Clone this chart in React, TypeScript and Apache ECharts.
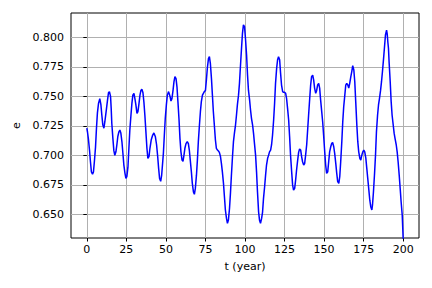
import React, { useEffect, useRef } from "react";
import * as echarts from "echarts";

const years: number[] = [
  0, 0.4, 1.0, 1.7, 2.3, 2.9, 3.6, 4.2, 4.8, 5.5, 6.1, 6.7, 7.4, 8.2, 8.9, 9.5, 10.1, 10.8, 11.4, 12.2,
  13.1, 13.7, 14.3, 15.0, 15.4, 15.8, 16.5, 17.1, 17.7, 18.4, 19.0, 19.6, 20.3, 20.9, 21.5, 22.2, 22.8,
  23.4, 24.1, 24.7, 25.3, 26.0, 26.6, 27.2, 27.9, 28.5, 29.1, 29.8, 30.4, 31.0, 31.7, 32.3, 32.9, 33.6,
  34.2, 34.8, 35.5, 36.1, 36.7, 37.4, 38.0, 38.6, 39.3, 39.9, 40.7, 41.6, 42.4, 43.3, 44.1, 44.8, 45.4,
  46.0, 46.7, 47.3,
  48.4, 49.0, 49.6, 50.3, 50.9, 51.7, 52.6, 53.2, 53.8, 54.5, 55.1, 55.7, 56.4, 57.0, 57.6, 58.3, 58.9,
  59.5, 60.2, 60.8, 61.4, 62.0, 62.7, 63.5, 64.2, 64.8, 65.4, 66.1, 66.7, 67.4, 68.0, 68.6, 69.3, 69.9,
  70.5, 71.2, 71.8, 72.4, 73.1, 73.7, 74.3, 75.0, 75.6, 76.2, 76.9, 77.5, 78.1, 78.8, 79.4, 80.0, 80.7,
  81.3, 81.9, 82.6, 83.2, 83.8, 84.5, 85.1, 85.7, 86.4, 87.0, 87.6, 88.3, 88.9, 89.5, 90.2, 90.8, 91.4,
  92.1, 92.7, 93.3, 94.0, 94.6, 95.2, 95.9, 96.5, 97.1, 97.8, 98.4, 99.0,
  99.7, 100.3, 101.0, 101.6, 102.2, 102.9, 103.5, 104.1, 104.8, 105.4, 106.0, 106.7, 107.3, 107.9, 108.6,
  109.2, 109.8, 110.5, 111.1, 111.7, 112.4, 113.0, 113.6, 114.3, 114.9, 115.5, 116.2, 116.8, 117.4, 118.1,
  118.7, 119.3, 120.0, 120.6, 121.2, 121.9, 122.5, 123.1, 123.8, 124.4, 125.0, 125.7, 126.3, 126.9, 127.6,
  128.2, 128.8, 129.5, 130.1, 130.7, 131.4, 132.0, 132.6, 133.3, 133.9, 134.5, 135.2, 135.8, 136.4, 137.1,
  137.7, 138.3, 139.0, 139.6, 140.2, 140.9, 141.5, 142.1, 142.8, 143.4, 144.0, 144.7, 145.3, 145.9, 146.6,
  147.2, 147.8, 148.5, 149.1, 149.7, 150.4,
  151.0, 151.6, 152.3, 152.9, 153.5, 154.2, 154.8, 155.4, 156.1, 156.7, 157.4, 158.0, 158.6, 159.3, 159.9,
  160.5, 161.2, 161.8, 162.4, 163.1, 163.7, 164.3, 165.0, 165.6, 166.2, 166.9, 167.5, 168.1, 168.8, 169.4,
  170.0, 170.7, 171.3, 171.9, 172.6, 173.2, 173.8, 174.5, 175.1, 175.7, 176.4, 177.0, 177.6, 178.3, 178.9,
  179.5, 180.2, 180.6, 181.2, 181.9, 182.5, 183.1, 183.8, 184.4, 185.0, 185.7, 186.3, 186.9, 187.6, 188.2,
  188.8, 189.5, 189.9, 190.3, 190.7, 191.1, 191.8, 192.4, 193.0, 193.7, 194.3, 194.9, 195.6, 196.2, 196.8,
  197.5, 198.1, 198.7, 199.4, 200.0,
];

const eccentricity: number[] = [
  0.723, 0.720, 0.714, 0.7045, 0.6946, 0.686, 0.684, 0.686, 0.695, 0.707, 0.723, 0.736, 0.744, 0.748, 0.743,
  0.734, 0.726, 0.723, 0.7285, 0.737, 0.747, 0.753, 0.754, 0.750, 0.740, 0.727, 0.714, 0.704, 0.700, 0.703,
  0.709, 0.716, 0.720, 0.7215, 0.719, 0.7115, 0.702, 0.692, 0.685, 0.6805, 0.682, 0.690, 0.706, 0.7215,
  0.734, 0.744, 0.751, 0.7525, 0.748, 0.743, 0.7355, 0.737, 0.743, 0.751, 0.755, 0.756, 0.753, 0.745, 0.734,
  0.719, 0.706, 0.6975, 0.699, 0.706, 0.713, 0.717, 0.719, 0.716, 0.709, 0.699, 0.689, 0.6805, 0.678, 0.683,
  0.7017, 0.717, 0.7314, 0.743, 0.751, 0.754, 0.750, 0.746, 0.748, 0.755, 0.7624, 0.7667, 0.765, 0.758,
  0.7455, 0.730, 0.714, 0.703, 0.696, 0.695, 0.700, 0.706, 0.710, 0.7116, 0.710, 0.7045, 0.696, 0.686,
  0.6763, 0.669, 0.667, 0.672, 0.683, 0.696, 0.7116, 0.7257, 0.737, 0.7455, 0.751, 0.7525, 0.754, 0.755,
  0.764, 0.774, 0.782, 0.7836, 0.778, 0.765, 0.751, 0.737, 0.724, 0.713, 0.706, 0.7045, 0.7037, 0.7025,
  0.699, 0.693, 0.686, 0.6763, 0.665, 0.6537, 0.6466, 0.6424, 0.6452, 0.655, 0.6678, 0.683, 0.699, 0.7116,
  0.7186, 0.7257, 0.734, 0.743, 0.751, 0.761, 0.775, 0.7907, 0.8034, 0.8105,
  0.809, 0.799, 0.785, 0.768, 0.755, 0.747, 0.7384, 0.7314, 0.7257, 0.7186, 0.710, 0.700, 0.686, 0.669,
  0.652, 0.645, 0.6424, 0.6466, 0.652, 0.6636, 0.6734, 0.683, 0.6918, 0.6975, 0.700, 0.703, 0.7045, 0.709,
  0.717, 0.730, 0.744, 0.761, 0.7737, 0.781, 0.7836, 0.781, 0.7695, 0.7596, 0.754, 0.7534, 0.7534, 0.7525,
  0.748, 0.740, 0.730, 0.716, 0.700, 0.686, 0.675, 0.6706, 0.672, 0.679, 0.6876, 0.696, 0.7025, 0.7054,
  0.7045, 0.699, 0.6946, 0.6918, 0.693, 0.700, 0.709, 0.7215, 0.734, 0.748, 0.7596, 0.7667, 0.768, 0.764,
  0.757, 0.7525, 0.755, 0.7596, 0.761, 0.757, 0.747, 0.737, 0.7285, 0.717, 0.703,
  0.6918, 0.6847, 0.686, 0.6946, 0.703, 0.7073, 0.710, 0.711, 0.7073, 0.7017, 0.693, 0.6847, 0.6777, 0.6763,
  0.682, 0.6946, 0.7116, 0.7285, 0.7412, 0.751, 0.7596, 0.761, 0.7596, 0.757, 0.761, 0.7667, 0.771, 0.776,
  0.7723, 0.7624, 0.7455, 0.7257, 0.7116, 0.703, 0.6975, 0.696, 0.700, 0.703, 0.7045, 0.703, 0.6975, 0.689,
  0.6805, 0.6706, 0.662, 0.6565, 0.6537, 0.658, 0.669, 0.6847, 0.700, 0.720, 0.734, 0.7427, 0.748, 0.755,
  0.7624, 0.771, 0.782, 0.792, 0.802, 0.806, 0.803, 0.796, 0.7907, 0.779, 0.7624, 0.7455, 0.734, 0.7257,
  0.7186, 0.714, 0.709, 0.703, 0.6946, 0.683, 0.672, 0.6607, 0.6494, 0.629,
];

const xTicks: number[] = [0, 25, 50, 75, 100, 125, 150, 175, 200];
const yTicks: number[] = [0.65, 0.675, 0.7, 0.725, 0.75, 0.775, 0.8];

export default function App() {
  const ref = useRef<HTMLDivElement>(null);
  useEffect(() => {
    if (!ref.current) return;
    const chart = echarts.init(ref.current, null, { renderer: "svg" });
    const font = { fontFamily: "DejaVu Sans", fontSize: 11, color: "#000" };
    chart.setOption({
      animation: false,
      backgroundColor: "#fff",
      grid: {
        left: 71,
        right: 13,
        top: 13,
        bottom: 50,
        show: true,
        borderColor: "#000",
        borderWidth: 1,
        backgroundColor: "transparent",
      },
      xAxis: {
        type: "value",
        min: -10,
        max: 210,
        name: "t (year)",
        nameLocation: "middle",
        nameGap: 23,
        nameTextStyle: { ...font, verticalAlign: "top" },
        axisLine: { show: false },
        axisTick: { show: true, length: 3.5, lineStyle: { color: "#000", width: 1 }, customValues: xTicks },
        axisLabel: { ...font, margin: 6, customValues: xTicks, formatter: (v: number) => String(v) },
        splitLine: { show: true, lineStyle: { color: "#b0b0b0", width: 1 } },
      },
      yAxis: {
        type: "value",
        min: 0.63,
        max: 0.8206,
        name: "e",
        nameLocation: "middle",
        nameRotate: 90,
        nameGap: 45,
        nameTextStyle: { ...font },
        axisLine: { show: false },
        axisTick: { show: true, length: 3.5, lineStyle: { color: "#000", width: 1 }, customValues: yTicks },
        axisLabel: { ...font, margin: 7, customValues: yTicks, formatter: (v: number) => v.toFixed(3) },
        splitLine: { show: true, lineStyle: { color: "#b0b0b0", width: 1 } },
      },
      series: [
        {
          type: "line",
          data: years.map((t, i) => [t, eccentricity[i]]),
          showSymbol: false,
          symbol: "none",
          lineStyle: { color: "#0000ff", width: 1.5 },
          clip: true,
        },
      ],
    });
    return () => chart.dispose();
  }, []);
  return <div ref={ref} style={{ width: 432, height: 288, position: "absolute", left: 0, top: 0 }} />;
}
